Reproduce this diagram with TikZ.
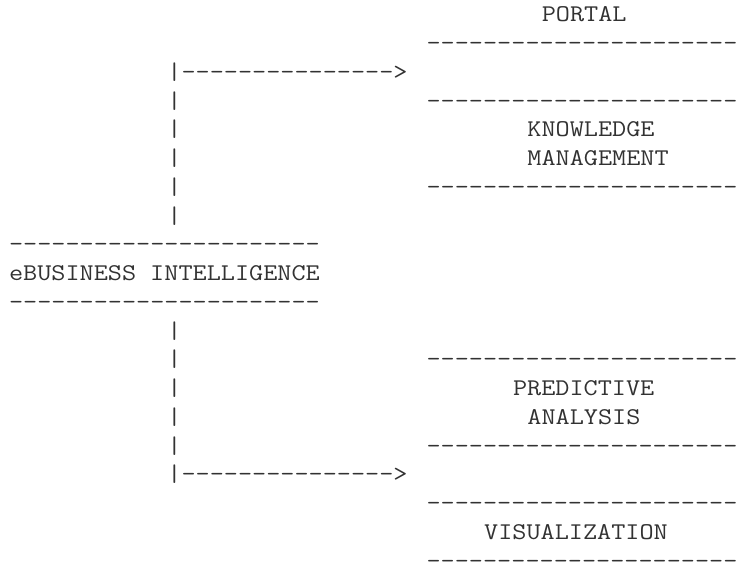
\documentclass[tikz,border=0pt]{standalone}
\usepackage{fontspec}
\newfontfamily\asciifont{Latin Modern Mono}[FakeStretch=1.143]
\definecolor{inkgray}{RGB}{50,50,50}
\tikzset{
  asc/.style={font=\asciifont\fontsize{18}{18}\selectfont, text=inkgray,
    inner sep=0pt, outer sep=0pt, anchor=base west}
}
\newcommand{\colx}[1]{9+#1*14.4}
\newcommand{\rowy}[1]{21.8+(#1-1)*28.75}
\begin{document}
\begin{tikzpicture}[x=0.75pt,y=-0.75pt]
\useasboundingbox (0,0) rectangle (738,564);
% right column boxes
\node[asc] (portal) at ({\colx{37}},{\rowy{1}}) {PORTAL};
\node[asc] (d2) at ({\colx{29}},{\rowy{2}}) {----------------------};
\node[asc] (arrowA) at ({\colx{11}},{\rowy{3}}) {|--------------->};
\node[asc] (p4) at ({\colx{11}},{\rowy{4}}) {|};
\node[asc] (d4) at ({\colx{29}},{\rowy{4}}) {----------------------};
\node[asc] (p5) at ({\colx{11}},{\rowy{5}}) {|};
\node[asc] (km1) at ({\colx{36}},{\rowy{5}}) {KNOWLEDGE};
\node[asc] (p6) at ({\colx{11}},{\rowy{6}}) {|};
\node[asc] (km2) at ({\colx{36}},{\rowy{6}}) {MANAGEMENT};
\node[asc] (p7) at ({\colx{11}},{\rowy{7}}) {|};
\node[asc] (d7) at ({\colx{29}},{\rowy{7}}) {----------------------};
\node[asc] (p8) at ({\colx{11}},{\rowy{8}}) {|};
% central box
\node[asc] (d9) at ({\colx{0}},{\rowy{9}}) {----------------------};
\node[asc] (ebi) at ({\colx{0}},{\rowy{10}}) {eBUSINESS INTELLIGENCE};
\node[asc] (d11) at ({\colx{0}},{\rowy{11}}) {----------------------};
% lower branch
\node[asc] (p12) at ({\colx{11}},{\rowy{12}}) {|};
\node[asc] (p13) at ({\colx{11}},{\rowy{13}}) {|};
\node[asc] (d13) at ({\colx{29}},{\rowy{13}}) {----------------------};
\node[asc] (p14) at ({\colx{11}},{\rowy{14}}) {|};
\node[asc] (pa1) at ({\colx{35}},{\rowy{14}}) {PREDICTIVE};
\node[asc] (p15) at ({\colx{11}},{\rowy{15}}) {|};
\node[asc] (pa2) at ({\colx{36}},{\rowy{15}}) {ANALYSIS};
\node[asc] (p16) at ({\colx{11}},{\rowy{16}}) {|};
\node[asc] (d16) at ({\colx{29}},{\rowy{16}}) {----------------------};
\node[asc] (arrowB) at ({\colx{11}},{\rowy{17}}) {|--------------->};
\node[asc] (d18) at ({\colx{29}},{\rowy{18}}) {----------------------};
\node[asc] (vis) at ({\colx{33}},{\rowy{19}}) {VISUALIZATION};
\node[asc] (d20) at ({\colx{29}},{\rowy{20}}) {----------------------};
\end{tikzpicture}
\end{document}
